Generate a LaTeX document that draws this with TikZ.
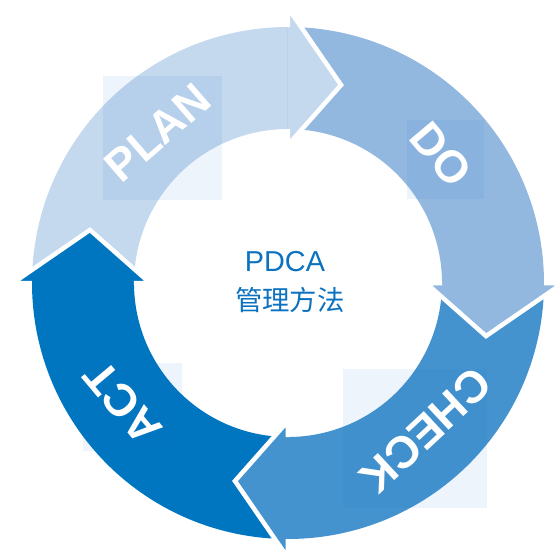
\documentclass[tikz,border=0pt]{standalone}
\usepackage{fontspec}
\setmainfont{Liberation Sans}
\newfontfamily\cjk{Noto Sans CJK SC}
\usetikzlibrary{calc, positioning}
\definecolor{planc}{HTML}{C4D8EE}
\definecolor{doc}{HTML}{93B8E0}
\definecolor{checkc}{HTML}{4493CF}
\definecolor{actc}{HTML}{0076C1}
\definecolor{textc}{HTML}{0A72C0}
\definecolor{tagc}{HTML}{1E6EC8}
\tikzset{>=stealth, font=\scriptsize}

\begin{document}
\begin{tikzpicture}[x=0.025cm,y=0.025cm]
\tikzstyle{head}=[draw=white,line width=3.2pt,line join=miter]
\tikzstyle{tag}=[fill=tagc,fill opacity=0.08,draw=none]
\tikzstyle{word}=[text=white,inner sep=0pt,font=\fontsize{32}{34}\selectfont\bfseries]

\useasboundingbox (-288,-277) rectangle (271,283);

\fill[planc]  (180:256) arc[start angle=180,end angle=89,radius=256]
              -- (89:154) arc[start angle=89,end angle=180,radius=154] -- cycle;
\fill[doc]    (90:256) arc[start angle=90,end angle=-1,radius=256]
              -- (-1:154) arc[start angle=-1,end angle=90,radius=154] -- cycle;
\fill[checkc] (0:256) arc[start angle=0,end angle=-91,radius=256]
              -- (-91:154) arc[start angle=-91,end angle=0,radius=154] -- cycle;
\fill[actc]   (270:256) arc[start angle=270,end angle=179,radius=256]
              -- (179:154) arc[start angle=179,end angle=270,radius=154] -- cycle;

\filldraw[head,fill=planc]  (90:154) -- (90:138) -- (75:205) -- (90:275) -- (90:256);
\filldraw[head,fill=doc]    (0:154) -- (0:138) -- (-15:205) -- (0:275) -- (0:256);
\filldraw[head,fill=checkc] (270:154) -- (270:138) -- (255:205) -- (270:275) -- (270:256);
\filldraw[head,fill=actc]   (180:154) -- (180:138) -- (165:205) -- (180:275) -- (180:256);

\fill[tag] (-185,207) rectangle (-66,83);
\fill[tag] (119,163) rectangle (196,84);
\fill[tag] (-205,-80) rectangle (-106,-168);
\fill[tag] (55,-86) rectangle (199,-225);

\node[word,rotate=41]   (plan)  at (131:199) {PLAN};
\node[word,rotate=-50]  (do)    at (40:200) {DO};
\node[word,rotate=-137] (check) at (-47:202) {CHECK};
\node[word,rotate=130]  (act)   at (216:204) {ACT};

\node[text=textc,font=\fontsize{20.5}{24}\selectfont] (pdca) at (-3,21) {PDCA};
\node[text=textc,font=\cjk\fontsize{19.5}{24}\selectfont] (way) at (2,-17) {管理方法};

\end{tikzpicture}
\end{document}
